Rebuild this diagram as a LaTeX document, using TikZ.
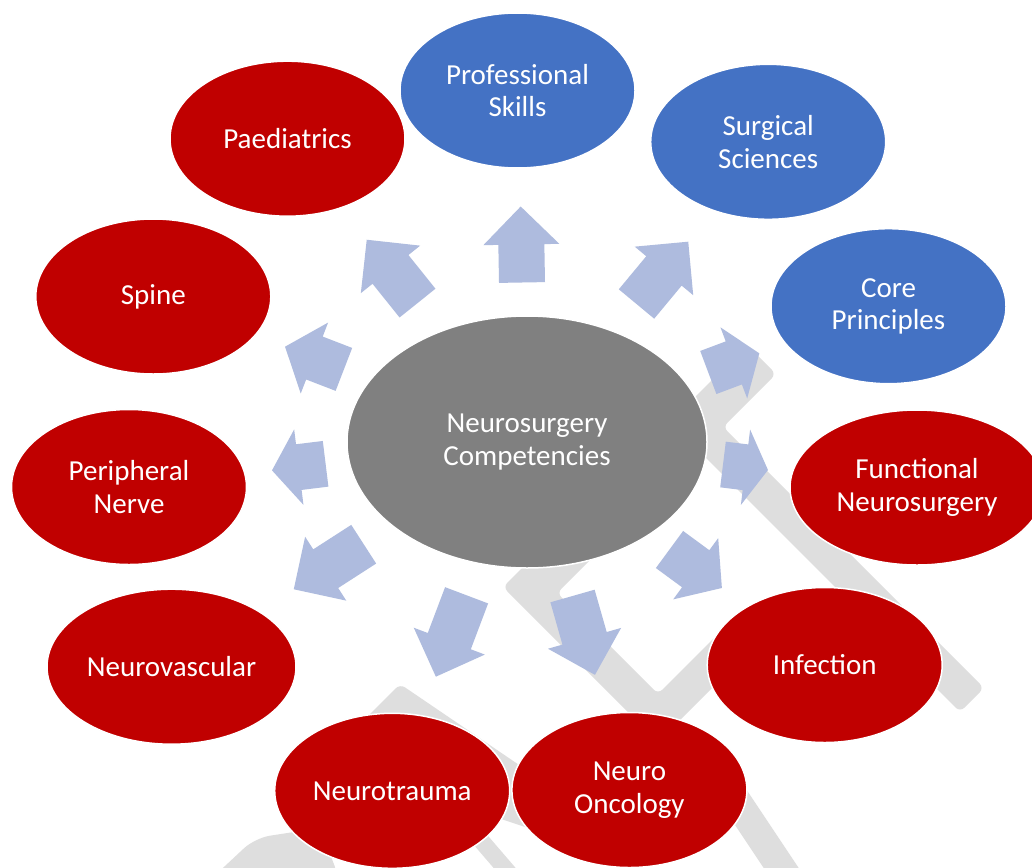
\documentclass[tikz,border=0pt]{standalone}
\usepackage{fontspec}
\setmainfont{Carlito}
\usetikzlibrary{shapes.geometric}

\definecolor{compred}{HTML}{C00000}
\definecolor{compblue}{HTML}{4472C4}
\definecolor{hubgray}{HTML}{808080}
\definecolor{arrowblue}{RGB}{174,187,222}
\definecolor{markgray}{RGB}{222,222,222}

\tikzset{
  topic/.style={ellipse, draw=white, line width=1.5pt, text=white, align=center,
    inner sep=0pt, minimum width=235pt, minimum height=155pt,
    font=\fontsize{29}{32.5}\selectfont},
  redtopic/.style={topic, fill=compred},
  bluetopic/.style={topic, fill=compblue},
  hub/.style={topic, fill=hubgray, minimum width=360pt, minimum height=252pt},
  arrowfill/.style={fill=arrowblue},
  watermark/.style={fill=markgray, rounded corners=6pt},
}

% block arrow: base midpoint (#1,#2), direction #3 (degrees), length #4, head length #5
\newcommand\blockarrow[5]{%
  \begin{scope}[shift={(#1,#2)}, rotate=#3]
    \fill[arrowfill] (0,-23) -- ({#4-#5},-23) -- ({#4-#5},-38) -- (#4,0)
      -- ({#4-#5},38) -- ({#4-#5},23) -- (0,23) -- cycle;
  \end{scope}}

\begin{document}
\begin{tikzpicture}[x=1pt, y=-1pt]
  \useasboundingbox[fill=white] (0,0) rectangle (1032,867);

  % faint background mark
  \fill[watermark] (670,422) -- (747,345) -- (776,374) -- (723,427)
    -- (984,688) -- (960,712) -- cycle;
  \fill[watermark] (620,470) -- (503,587) -- (658,742) -- (750,650)
    -- (726,626) -- (658,694) -- (557,593) -- (650,500) -- cycle;
  \fill[watermark] (400,684) -- (575,803) -- (552,836) -- (340,765)
    -- (330,754) -- cycle;
  \fill[watermark, rounded corners=15pt] (210,880) -- (255,838) -- (320,828)
    -- (340,880) -- cycle;
  \fill[watermark] (430,794) -- (452,794) -- (526,880) -- (504,880) -- cycle;
  \fill[watermark] (726.7,760) -- (806.7,880) -- (771.7,880) -- (691.7,760) -- cycle;

  % outward arrows
  \blockarrow{522}{282.5}{91}{76}{38}
  \blockarrow{636.5}{304}{50.3}{81}{38}
  \blockarrow{708.3}{372.5}{20.6}{54.5}{27.25}
  \blockarrow{723}{464.5}{-7}{45.3}{22.65}
  \blockarrow{669.5}{549.5}{-36.3}{65}{32.5}
  \blockarrow{572.5}{596}{-74.1}{82}{38}
  \blockarrow{466.6}{595.3}{-110.7}{87}{38}
  \blockarrow{363.7}{544.2}{-147.2}{83.2}{38}
  \blockarrow{325.6}{463.8}{-173}{54}{27}
  \blockarrow{343.9}{369.4}{158.9}{63.1}{31.5}
  \blockarrow{417.5}{303.1}{128.7}{81.2}{38}

  % central topic
  \node[hub] (centre) at (527,442) {Neurosurgery\\Competencies};

  % surrounding topics
  \node[bluetopic] (prof) at (517.5,90.5) {Professional\\Skills};
  \node[bluetopic] (surg) at (768.2,141.8) {Surgical\\Sciences};
  \node[bluetopic] (core) at (888.5,306.2) {Core\\Principles};
  \node[redtopic, minimum width=254pt] (func) at (917,487.5) {Functional\\Neurosurgery};
  \node[redtopic] (infec) at (824.7,665) {Infection};
  \node[redtopic] (trauma) at (392.2,790.8) {Neurotrauma};
  \node[redtopic] (onco) at (629.4,790) {Neuro\\Oncology};
  \node[redtopic, minimum width=249pt] (vasc) at (171.5,666.7) {Neurovascular};
  \node[redtopic] (periph) at (129,487) {Peripheral\\Nerve};
  \node[redtopic] (spine) at (153.3,296.5) {Spine};
  \node[redtopic] (paed) at (287.5,138.7) {Paediatrics};
\end{tikzpicture}
\end{document}
